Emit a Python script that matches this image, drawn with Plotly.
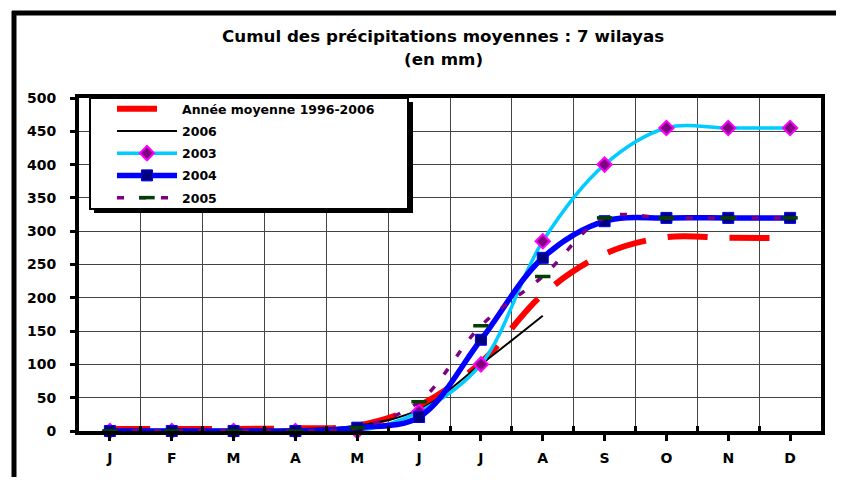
import plotly.graph_objects as go

months = ["J", "F", "M", "A", "M", "J", "J", "A", "S", "O", "N", "D"]
x_idx = list(range(12))

moyenne = [3, 3, 3, 4, 8, 38, 103, 205, 266, 291, 290, 290]
y2006 = [2, 2, 2, 3, 8, 32, 100, 173, None, None, None, None]
y2003 = [0, 0, 0, 0, 0, 29, 100, 285, 400, 455, 455, 455]
y2004 = [0, 0, 0, 0, 5, 21, 137, 260, 315, 320, 320, 320]
y2005 = [0, 0, 0, 0, 5, 44, 158, 232, 320, 320, 320, 320]

y_ticks = list(range(0, 501, 50))

# page offset (body margin) and plot area in page pixels
OFF = 8
W, H = 848 - 2 * OFF, 485 - 2 * OFF
PL, PR, PT, PB = 79, 821, 98, 431
L, R, T, B = PL - OFF, PR - OFF, PT - OFF, PB - OFF


def px(xp):
    return (xp - PL) / (PR - PL)


def py(yp):
    return (PB - yp) / (PB - PT)


FONT = "DejaVu Sans"

fig = go.Figure()

fig.add_trace(go.Scatter(
    x=x_idx, y=moyenne, name="Année moyenne 1996-2006", mode="lines",
    line=dict(color="#FF0000", width=6, dash="40px,22px", shape="spline"),
    cliponaxis=False, legendgroup="a"))
fig.add_trace(go.Scatter(
    x=x_idx, y=y2006, name="2006", mode="lines",
    line=dict(color="#000000", width=2, shape="spline"),
    cliponaxis=False, legendgroup="b"))
fig.add_trace(go.Scatter(
    x=x_idx, y=y2003, name="2003", mode="lines+markers",
    line=dict(color="#00CCFF", width=3.5, shape="spline"),
    marker=dict(symbol="diamond", size=11, color="#800080",
                line=dict(color="#FF00FF", width=2)),
    cliponaxis=False, legendgroup="c"))
fig.add_trace(go.Scatter(
    x=x_idx, y=y2004, name="2004", mode="lines+markers",
    line=dict(color="#0000FF", width=5.5, shape="spline"),
    marker=dict(symbol="square", size=11, color="#000080",
                line=dict(color="#0000FF", width=1)),
    cliponaxis=False, legendgroup="d"))
fig.add_trace(go.Scatter(
    x=x_idx, y=y2005, name="2005", mode="lines+markers",
    line=dict(color="#800080", width=3.5, dash="7px,15px", shape="spline"),
    marker=dict(symbol="line-ew", size=11,
                line=dict(color="#004000", width=3.5)),
    cliponaxis=False, legendgroup="e"))

shapes = [
    # outer frame: left and top edges
    dict(type="line", xref="paper", yref="paper",
         x0=px(14), x1=px(14), y0=py(490), y1=py(11),
         line=dict(color="black", width=5)),
    dict(type="line", xref="paper", yref="paper",
         x0=px(12), x1=px(836), y0=py(13), y1=py(13),
         line=dict(color="black", width=5)),
    # legend shadow
    dict(type="rect", xref="paper", yref="paper", layer="above",
         x0=px(94), x1=px(413), y0=py(213), y1=py(102),
         line=dict(width=0), fillcolor="black"),
    # legend box
    dict(type="rect", xref="paper", yref="paper", layer="above",
         x0=px(90), x1=px(408), y0=py(209), y1=py(98),
         line=dict(color="black", width=2), fillcolor="white"),
]

annotations = [
    dict(text="Cumul des précipitations moyennes : 7 wilayas",
         xref="paper", yref="paper", x=px(443), y=py(36),
         xanchor="center", yanchor="middle", showarrow=False,
         font=dict(family=FONT, size=16.7, color="black", weight="bold")),
    dict(text="(en mm)",
         xref="paper", yref="paper", x=px(443), y=py(59),
         xanchor="center", yanchor="middle", showarrow=False,
         font=dict(family=FONT, size=16.7, color="black", weight="bold")),
]

fig.update_layout(
    width=W, height=H,
    margin=dict(l=L, r=W - R, t=T, b=H - B),
    paper_bgcolor="white", plot_bgcolor="white",
    showlegend=True,
    legend=dict(x=px(112), y=py(94), xanchor="left", yanchor="top",
                bgcolor="rgba(0,0,0,0)", borderwidth=0,
                font=dict(family=FONT, size=12.5, color="black", weight="bold"),
                tracegroupgap=3, itemwidth=60, traceorder="grouped"),
    shapes=shapes,
    annotations=annotations,
)

fig.update_xaxes(
    range=[-0.5, 11.5], tickmode="array", tickvals=x_idx, ticktext=months,
    showgrid=False, zeroline=False,
    showline=True, linecolor="black", linewidth=4, mirror=True,
    ticks="outside", ticklen=6, tickwidth=3, tickcolor="black",
    ticklabelstandoff=5,
    tickfont=dict(family=FONT, size=14, color="black", weight="bold"),
    minor=dict(tickmode="array", tickvals=[i + 0.5 for i in range(11)],
               showgrid=True, gridcolor="#444444", gridwidth=1.3,
               ticks="inside", ticklen=5, tickwidth=3, tickcolor="black"),
)
fig.update_yaxes(
    range=[0, 500], tickmode="array", tickvals=y_ticks,
    showgrid=True, gridcolor="#444444", gridwidth=1.3, zeroline=False,
    showline=True, linecolor="black", linewidth=4, mirror=True,
    ticks="outside", ticklen=5, tickwidth=3, tickcolor="black",
    ticklabelstandoff=11,
    tickfont=dict(family=FONT, size=14, color="black", weight="bold"),
)

fig.write_html("out.html")
